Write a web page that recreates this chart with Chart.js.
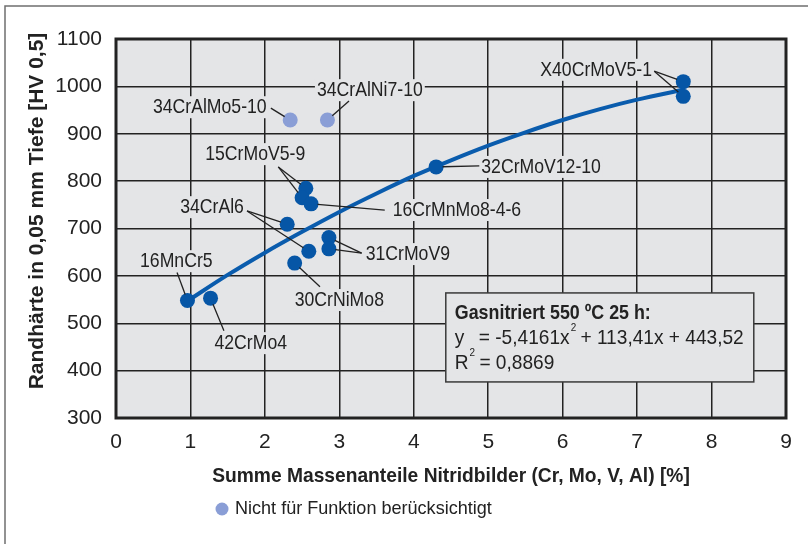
<!DOCTYPE html>
<html>
<head>
<meta charset="utf-8">
<script src="https://cdn.jsdelivr.net/npm/chart.js@4"></script>
<style>
  html, body { margin: 0; padding: 0; background: #fff; }
  canvas { display: block; }
</style>
</head>
<body>
<canvas id="hvChart" width="808" height="544"></canvas>
<script>
// Werkstoffe, die in die Ausgleichsfunktion eingehen
var steels = ['16MnCr5', '42CrMo4', '34CrAl6', '34CrAl6', '30CrNiMo8', '15CrMoV5-9', '15CrMoV5-9',
              '16CrMnMo8-4-6', '31CrMoV9', '31CrMoV9', '32CrMoV12-10', 'X40CrMoV5-1', 'X40CrMoV5-1'];
var steelX = [0.96, 1.27, 2.30, 2.59, 2.40, 2.55, 2.50, 2.62, 2.86, 2.86, 4.30, 7.62, 7.62];
var steelY = [548, 553, 709, 652, 627, 785, 765, 752, 681, 657, 830, 1010, 979];

// nicht berücksichtigte Werkstoffe
var otherSteels = ['34CrAlMo5-10', '34CrAlNi7-10'];
var otherX = [2.34, 2.84];
var otherY = [929, 929];

// Ausgleichskurve (Polynom 2. Ordnung)
var fitX = [0.96, 1.5, 2, 2.5, 3, 3.5, 4, 4.5, 5, 5.5, 6, 6.5, 7, 7.62];
var fitY = [547, 602, 649, 693, 735, 774, 811, 844, 875, 903, 929, 952, 972, 993];

var xTicks = [0, 1, 2, 3, 4, 5, 6, 7, 8, 9];
var yTicks = [300, 400, 500, 600, 700, 800, 900, 1000, 1100];

var fitText = ['Gasnitriert 550 ºC 25 h:', 'y', '= -5,4161x', '2', ' + 113,41x + 443,52', 'R', '2', ' = 0,8869'];

// Beschriftungen: Textmitte (tx, ty) und Start der Hinweislinie (lx, ly) in Achseneinheiten
var tags = [
  { text: '16MnCr5',       tx: 0.81, ty: 631,  lx: 0.82, ly: 607,  pts: [0] },
  { text: '42CrMo4',       tx: 1.81, ty: 458,  lx: 1.45, ly: 484,  pts: [1] },
  { text: '34CrAl6',       tx: 1.29, ty: 745,  lx: 1.76, ly: 737,  pts: [2, 3] },
  { text: '30CrNiMo8',     tx: 3.00, ty: 549,  lx: 2.74, ly: 577,  pts: [4] },
  { text: '15CrMoV5-9',    tx: 1.87, ty: 857,  lx: 2.18, ly: 830,  pts: [5, 6] },
  { text: '16CrMnMo8-4-6', tx: 4.58, ty: 739,  lx: 3.61, ly: 739,  pts: [7] },
  { text: '31CrMoV9',      tx: 3.92, ty: 646,  lx: 3.30, ly: 648,  pts: [8, 9] },
  { text: '32CrMoV12-10',  tx: 5.71, ty: 830,  lx: 4.88, ly: 832,  pts: [10] },
  { text: 'X40CrMoV5-1',   tx: 6.45, ty: 1035, lx: 7.23, ly: 1032, pts: [11, 12] },
  { text: '34CrAlMo5-10',  tx: 1.26, ty: 956,  lx: 2.08, ly: 954,  pts: [0], other: true },
  { text: '34CrAlNi7-10',  tx: 3.41, ty: 992,  lx: 3.13, ly: 969,  pts: [1], other: true }
];

var FONT = '"Liberation Sans", Arial, sans-serif';
var plotBg = '#e4e5e7';
var blue = '#0656a6';
var lightBlue = '#8a9ed6';
var ink = '#222222';

// schmale Schrift: Liberation Sans horizontal gestaucht
function txt(ctx, s, x, y, o) {
  ctx.save();
  ctx.font = (o.bold ? 'bold ' : '') + o.size + 'px ' + FONT;
  ctx.fillStyle = o.color || ink;
  ctx.textBaseline = 'middle';
  ctx.textAlign = o.align || 'left';
  ctx.translate(x, y);
  if (o.rot) ctx.rotate(o.rot);
  ctx.scale(o.sx || 1, 1);
  ctx.fillText(s, 0, 0);
  ctx.restore();
}
function txtWidth(ctx, s, o) {
  ctx.save();
  ctx.font = (o.bold ? 'bold ' : '') + o.size + 'px ' + FONT;
  var w = ctx.measureText(s).width * (o.sx || 1);
  ctx.restore();
  return w;
}

var tickFont = { size: 21, sx: 1.0 };
var tagFont = { size: 21, sx: 0.84 };

var decor = {
  id: 'decor',
  beforeDraw: function(chart) {
    var ctx = chart.ctx, a = chart.chartArea;
    ctx.save();
    ctx.fillStyle = plotBg;
    ctx.fillRect(a.left, a.top, a.right - a.left, a.bottom - a.top);
    // Rahmen der Abbildung
    ctx.strokeStyle = '#6f6f6f';
    ctx.lineWidth = 1.5;
    ctx.beginPath();
    ctx.moveTo(5, 544);
    ctx.lineTo(5, 6);
    ctx.lineTo(808, 6);
    ctx.stroke();
    ctx.restore();
  },
  beforeDatasetsDraw: function(chart) {
    var ctx = chart.ctx, a = chart.chartArea;
    var xs = chart.scales.x, ys = chart.scales.y;
    ctx.save();
    ctx.strokeStyle = ink;
    ctx.lineWidth = 3;
    ctx.strokeRect(a.left, a.top, a.right - a.left, a.bottom - a.top);

    // Kasten mit der Ausgleichsfunktion
    var bx = xs.getPixelForValue(4.43), by = ys.getPixelForValue(564);
    var bw = 308, bh = 89;
    ctx.fillStyle = plotBg;
    ctx.fillRect(bx, by, bw, bh);
    ctx.strokeStyle = '#3a3a3a';
    ctx.lineWidth = 1.5;
    ctx.strokeRect(bx, by, bw, bh);
    ctx.restore();

    var tx = bx + 9;
    var big = { size: 21, sx: 0.91 }, sup = { size: 11, sx: 0.9 };
    txt(ctx, fitText[0], tx, by + 20, { size: 21, sx: 0.85, bold: true });
    txt(ctx, fitText[1], tx, by + 45, big);
    var x2 = tx + 24;
    txt(ctx, fitText[2], x2, by + 45, big);
    x2 += txtWidth(ctx, fitText[2], big);
    txt(ctx, fitText[3], x2 + 1, by + 35, sup);
    x2 += txtWidth(ctx, fitText[3], sup);
    txt(ctx, fitText[4], x2, by + 45, big);
    txt(ctx, fitText[5], tx, by + 70, big);
    var x3 = tx + txtWidth(ctx, fitText[5], big);
    txt(ctx, fitText[6], x3 + 1, by + 60, sup);
    x3 += txtWidth(ctx, fitText[6], sup);
    txt(ctx, fitText[7], x3, by + 70, big);
  },
  afterDatasetsDraw: function(chart) {
    var ctx = chart.ctx;
    var xs = chart.scales.x, ys = chart.scales.y;
    var r = 7.5;
    tags.forEach(function(t) {
      var cx = xs.getPixelForValue(t.tx), cy = ys.getPixelForValue(t.ty);
      var w = txtWidth(ctx, t.text, tagFont);
      ctx.save();
      ctx.fillStyle = plotBg;
      ctx.fillRect(cx - w / 2 - 2, cy - 11, w + 4, 22);
      var sx = xs.getPixelForValue(t.lx), sy = ys.getPixelForValue(t.ly);
      ctx.strokeStyle = ink;
      ctx.lineWidth = 1.3;
      t.pts.forEach(function(i) {
        var px = xs.getPixelForValue(t.other ? otherX[i] : steelX[i]);
        var py = ys.getPixelForValue(t.other ? otherY[i] : steelY[i]);
        var d = Math.hypot(px - sx, py - sy);
        var k = (d - r + 1) / d;
        ctx.beginPath();
        ctx.moveTo(sx, sy);
        ctx.lineTo(sx + (px - sx) * k, sy + (py - sy) * k);
        ctx.stroke();
      });
      ctx.restore();
      txt(ctx, t.text, cx, cy, { size: tagFont.size, sx: tagFont.sx, align: 'center' });
    });
  },
  afterDraw: function(chart) {
    var ctx = chart.ctx;
    var xs = chart.scales.x, ys = chart.scales.y;
    // Achsenbeschriftung
    xTicks.forEach(function(v) {
      txt(ctx, String(v), xs.getPixelForValue(v), 442, { size: tickFont.size, sx: tickFont.sx, align: 'center' });
    });
    yTicks.forEach(function(v) {
      txt(ctx, String(v), 102, ys.getPixelForValue(v), { size: tickFont.size, sx: tickFont.sx, align: 'right' });
    });
    txt(ctx, 'Summe Massenanteile Nitridbilder (Cr, Mo, V, Al) [%]', (xs.left + xs.right) / 2, 476,
        { size: 21, sx: 0.915, bold: true, align: 'center' });
    txt(ctx, 'Randhärte in 0,05 mm Tiefe [HV 0,5]', 37, 211,
        { size: 21, sx: 1.0, bold: true, align: 'center', rot: -Math.PI / 2 });

    // Legende
    ctx.save();
    ctx.fillStyle = lightBlue;
    ctx.beginPath();
    ctx.arc(222, 509, 6.5, 0, Math.PI * 2);
    ctx.fill();
    ctx.restore();
    txt(ctx, chart.data.datasets[1].label, 235, 509, { size: 19, sx: 0.95 });
  }
};

new Chart(document.getElementById('hvChart'), {
  type: 'scatter',
  data: {
    datasets: [{
      label: 'Werkstoffe',
      data: steelX.map(function(x, i) { return { x: x, y: steelY[i] }; }),
      backgroundColor: blue,
      borderColor: blue,
      pointRadius: 7.5,
      pointBorderWidth: 0
    }, {
      label: 'Nicht für Funktion berücksichtigt',
      data: otherX.map(function(x, i) { return { x: x, y: otherY[i] }; }),
      backgroundColor: lightBlue,
      borderColor: lightBlue,
      pointRadius: 7.5,
      pointBorderWidth: 0
    }, {
      label: 'Ausgleichskurve',
      data: fitX.map(function(x, i) { return { x: x, y: fitY[i] }; }),
      showLine: true,
      borderColor: '#0a5cad',
      borderWidth: 4,
      pointRadius: 0,
      cubicInterpolationMode: 'monotone',
      order: 1
    }]
  },
  options: {
    responsive: false,
    animation: false,
    events: [],
    layout: { padding: { top: 39, right: 22, left: 0, bottom: 0 } },
    plugins: {
      legend: { display: false },
      tooltip: { enabled: false }
    },
    scales: {
      x: {
        type: 'linear',
        min: 0,
        max: 9,
        afterFit: function(s) { s.height = 126; },
        afterBuildTicks: function(s) { s.ticks = xTicks.map(function(v) { return { value: v }; }); },
        grid: { color: ink, lineWidth: 1.5, drawTicks: false },
        border: { display: false },
        ticks: { display: false }
      },
      y: {
        type: 'linear',
        min: 300,
        max: 1100,
        afterFit: function(s) { s.width = 116; },
        afterBuildTicks: function(s) { s.ticks = yTicks.map(function(v) { return { value: v }; }); },
        grid: { color: ink, lineWidth: 1.5, drawTicks: false },
        border: { display: false },
        ticks: { display: false }
      }
    }
  },
  plugins: [decor]
});
</script>
</body>
</html>
